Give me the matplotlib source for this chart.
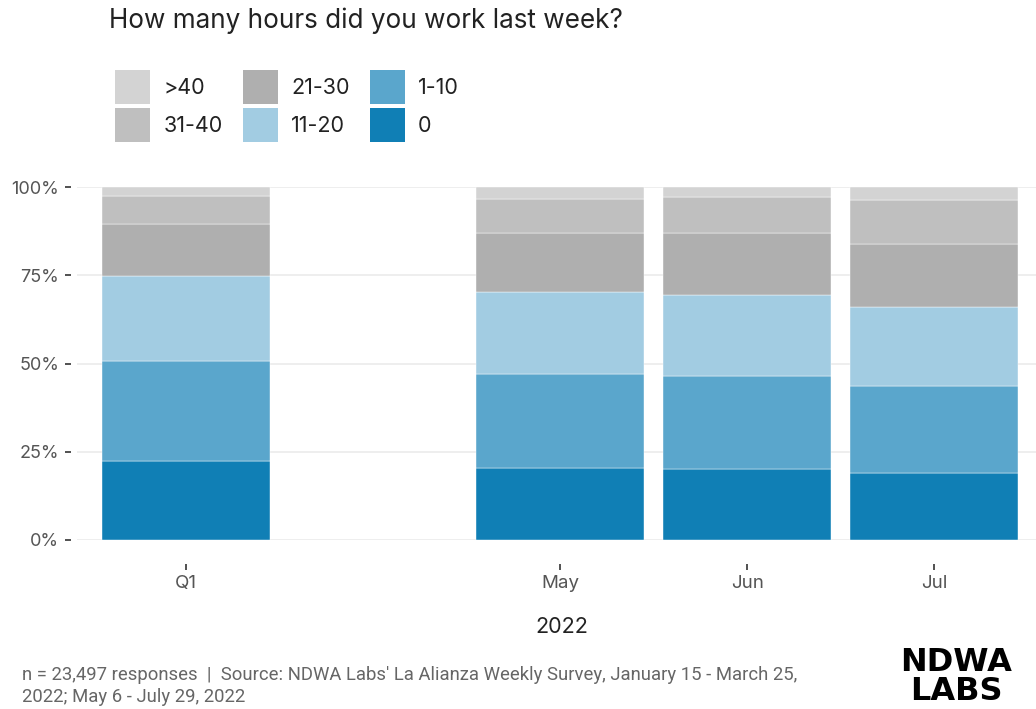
import matplotlib
matplotlib.use("Agg")
import matplotlib.pyplot as plt
from matplotlib.patches import Patch
import numpy as np

categories = ["Q1", "May", "Jun", "Jul"]
positions = [0, 2, 3, 4]
series_names = ["0", "1-10", "11-20", "21-30", "31-40", ">40"]
v0 = [22.3, 20.5, 20.1, 19.1]
v1_10 = [28.5, 26.6, 26.4, 24.5]
v11_20 = [23.9, 23.2, 23.0, 22.5]
v21_30 = [14.8, 16.8, 17.6, 17.7]
v31_40 = [8.0, 9.6, 10.2, 12.6]
v40p = [2.5, 3.3, 2.7, 3.6]
colors = ["#107fb5", "#5aa6cc", "#a2cce2", "#afafaf", "#bfbfbf", "#d3d3d3"]
yticks = [0, 25, 50, 75, 100]
ytick_labels = ["0%", "25%", "50%", "75%", "100%"]

plt.rcParams['font.family'] = ['Inter', 'DejaVu Sans']

W, H = 1036, 709
fig = plt.figure(figsize=(W / 100, H / 100), dpi=100)
ax = fig.add_axes([77 / W, 1 - 540 / H, 1 - 77 / W, (540 - 187) / H])

series = [v0, v1_10, v11_20, v21_30, v31_40, v40p]
bottom = np.zeros(len(categories))
for name, vals, c in zip(series_names, series, colors):
    ax.bar(positions, vals, bottom=bottom, width=0.9, color=c,
           edgecolor="white", linewidth=0.3, zorder=2)
    bottom += np.array(vals)

ax.set_xlim(-0.583, 4.545)
ax.set_ylim(0, 100)
ax.set_yticks(yticks)
ax.set_yticklabels(ytick_labels)
ax.set_xticks(positions)
ax.set_xticklabels(categories)
for y in yticks:
    ax.axhline(y, color="#ebebeb", linewidth=1.2, zorder=1)
for s in ax.spines.values():
    s.set_visible(False)
ax.spines['bottom'].set_position(('outward', 17))
ax.spines['left'].set_position(('outward', 4))
ax.tick_params(axis='x', length=4, width=1.2, color="#333333", pad=4,
               labelsize=13.5, labelcolor="#555555")
ax.tick_params(axis='y', length=4, width=1.2, color="#333333", pad=5,
               labelsize=13, labelcolor="#555555")
ax.set_xlabel("2022", fontsize=15.5, color="#222222", labelpad=18)
ax.xaxis.label.set_x((562 - 77) / (W - 77))

fig.text(109 / W, 1 - 21 / H, "How many hours did you work last week?",
         fontsize=18.8, color="#222222", va="center", ha="left")

# legend
order = [">40", "31-40", "21-30", "11-20", "1-10", "0"]
handles = [Patch(facecolor=colors[series_names.index(n)], label=n) for n in order]
leg = fig.legend(handles=handles, ncol=3, loc="upper left",
                 bbox_to_anchor=(96 / W, 1 - 51 / H), frameon=False,
                 handlelength=1.63, handleheight=2.05, handletextpad=0.6,
                 columnspacing=0.95, labelspacing=0.19, fontsize=15.5)
for t in leg.get_texts():
    t.set_color("#222222")

fig.text(22 / W, 1 - 686 / H,
         "n = 23,497 responses  |  Source: NDWA Labs' La Alianza Weekly Survey, January 15 - March 25,\n2022; May 6 - July 29, 2022",
         fontsize=13.3, color="#666666", va="center", ha="left", linespacing=1.35,
         family=['Roboto', 'DejaVu Sans'])
fig.text(956 / W, 1 - 677 / H, "NDWA\nLABS", fontsize=23, fontweight="black",
         color="black", ha="center", va="center", linespacing=0.92,
         family=['DejaVu Sans'])

fig.savefig("out.png", dpi=100)
